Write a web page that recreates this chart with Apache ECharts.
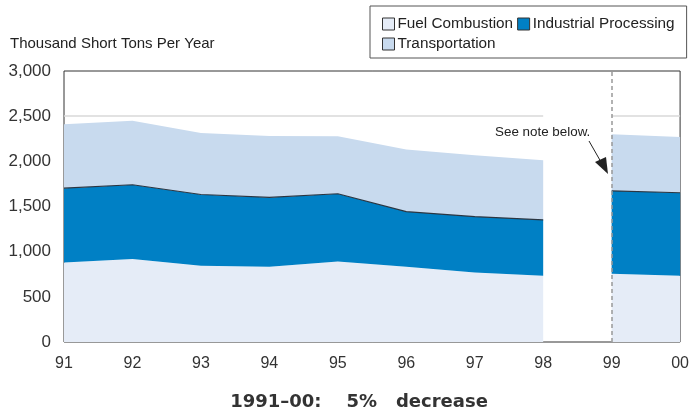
<!DOCTYPE html>
<html>
<head>
<meta charset="utf-8">
<script src="https://cdn.jsdelivr.net/npm/echarts@6/dist/echarts.min.js"></script>
<style>
  html, body { margin: 0; padding: 0; background: #fff; }
  #chart { width: 692px; height: 415px; }
</style>
</head>
<body>
<div id="chart"></div>
<script>
// tick labels on x (1991..2000), no data drawn between 98 and 99
var xLabels = ['91', '92', '93', '94', '95', '96', '97', '98', '99', '00'];
var yTicks = [0, 500, 1000, 1500, 2000, 2500, 3000];

var fuelCombustion = [880, 918, 844, 833, 892, 833, 770, 733, 756, 733];
var industrialProcessing = [823, 823, 789, 767, 749, 611, 619, 619, 918, 919];
var transportation = [708, 707, 682, 681, 637, 686, 678, 659, 626, 618];

var seriesNames = ['Fuel Combustion', 'Industrial Processing', 'Transportation'];
var colors = ['#e5ecf7', '#0080c5', '#c8daee'];
var breakAfter = 7; // last index of the first segment ('98')

// keep one segment, null out the other
function segment(vals, first) {
    return vals.map(function (v, i) {
        return (first ? i <= breakAfter : i > breakAfter) ? v : null;
    });
}

var chart = echarts.init(document.getElementById('chart'));
var font = '"Liberation Sans", Arial, sans-serif';

var layers = [fuelCombustion, industrialProcessing, transportation];
var series = [];
['a', 'b'].forEach(function (stackId, s) {
    layers.forEach(function (vals, k) {
        series.push({
            name: seriesNames[k], type: 'line', stack: stackId,
            data: segment(vals, s === 0),
            symbol: 'none', connectNulls: false,
            itemStyle: { color: colors[k] },
            lineStyle: k === 1 ? { width: 1.2, color: '#2b3642' } : { width: 0 },
            areaStyle: { color: colors[k], opacity: 1 }
        });
    });
});

// light gridline at 2500 (cut in the gap) and dashed marker at 99
series[2].markLine = {
    silent: true, symbol: 'none', label: { show: false },
    data: [
        [{ coord: [0, 2500], lineStyle: { color: '#d8d8d8', width: 1.5, type: 'solid' } },
         { coord: [breakAfter, 2500] }],
        [{ coord: [breakAfter + 1, 2500], lineStyle: { color: '#d8d8d8', width: 1.5, type: 'solid' } },
         { coord: [xLabels.length - 1, 2500] }],
        { xAxis: breakAfter + 1, lineStyle: { color: '#999', width: 1.5, type: [4, 3] } }
    ]
};

chart.setOption({
    animation: false,
    textStyle: { fontFamily: font },
    grid: {
        left: 64, right: 9, top: 71, bottom: 73,
        show: true, borderColor: '#333', borderWidth: 1, backgroundColor: 'transparent'
    },
    title: {
        text: '1991–00:    5%   decrease',
        left: 354, top: 388, textAlign: 'center',
        textStyle: { fontFamily: '"DejaVu Sans", sans-serif', fontSize: 18, fontWeight: 'bold', color: '#333' }
    },
    legend: {
        data: seriesNames,
        left: 370, top: 6, width: 300,
        padding: [10, 12, 6, 12],
        itemWidth: 12, itemHeight: 12, itemGap: 4,
        borderColor: '#555', borderWidth: 1,
        icon: 'rect',
        itemStyle: { borderColor: '#333', borderWidth: 1 },
        textStyle: { fontSize: 15.3, color: '#222', lineHeight: 16, padding: [0, 0, 0, -2] }
    },
    graphic: [
        {
            type: 'text', left: 10, top: 36,
            style: { text: 'Thousand Short Tons Per Year', fontSize: 15, fill: '#222', fontFamily: font }
        },
        {
            type: 'text', left: 495, top: 126,
            style: { text: 'See note below.', fontSize: 13.4, fill: '#222', fontFamily: font }
        },
        {
            type: 'line', z: 100,
            shape: { x1: 589, y1: 141, x2: 601, y2: 162 },
            style: { stroke: '#222', lineWidth: 1 }
        },
        {
            type: 'polygon', z: 100,
            shape: { points: [[595, 162], [606, 157], [608, 174]] },
            style: { fill: '#222' }
        }
    ],
    xAxis: {
        type: 'category', data: xLabels, boundaryGap: false,
        axisLine: { show: false }, axisTick: { show: false }, splitLine: { show: false },
        axisLabel: { fontSize: 16, color: '#333', margin: 14 }
    },
    yAxis: {
        type: 'value', min: yTicks[0], max: yTicks[yTicks.length - 1], interval: 500,
        axisLine: { show: false }, axisTick: { show: false }, splitLine: { show: false },
        axisLabel: {
            fontSize: 17, color: '#333', margin: 13,
            formatter: function (v) { return v.toLocaleString('en-US'); }
        }
    },
    series: series
});
</script>
</body>
</html>
